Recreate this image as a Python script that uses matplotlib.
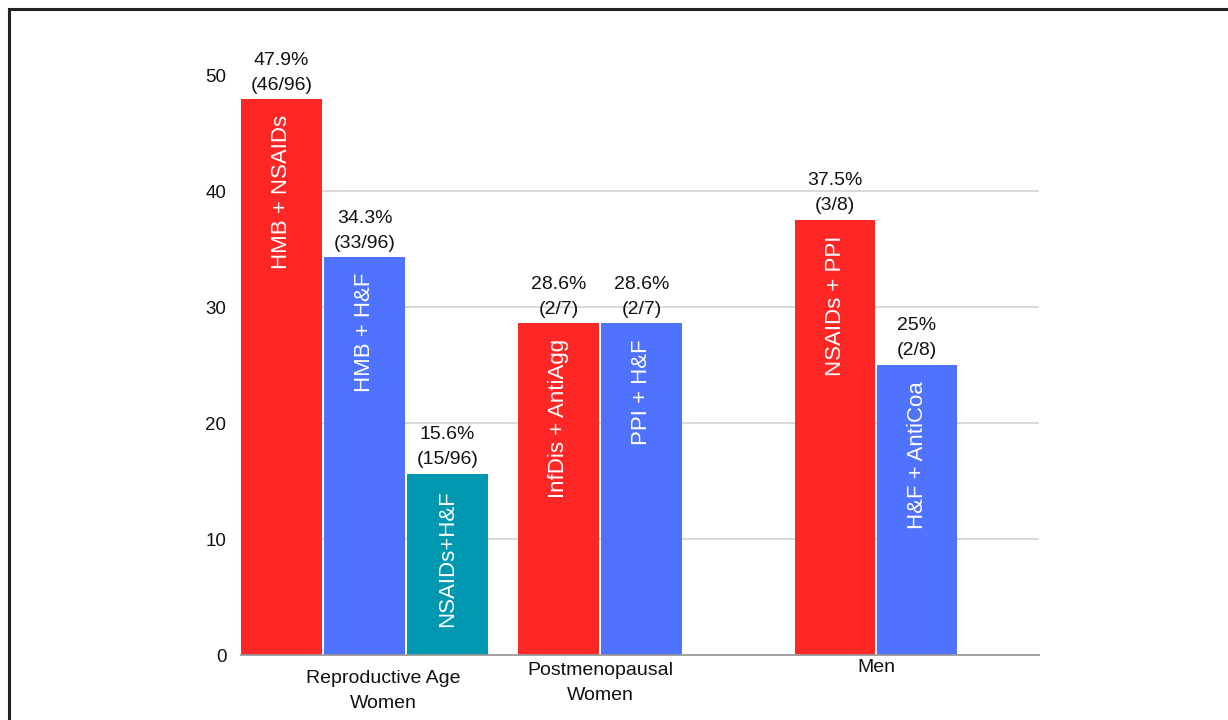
import matplotlib
matplotlib.use("Agg")
import matplotlib.pyplot as plt
from matplotlib.lines import Line2D

# ---- data ----
bar_labels = ["HMB + NSAIDs", "HMB + H&F", "NSAIDs+H&F",
              "InfDis + AntiAgg", "PPI + H&F",
              "NSAIDs + PPI", "H&F + AntiCoa"]
values = [47.9, 34.3, 15.6, 28.6, 28.6, 37.5, 25.0]
pct_text = ["47.9%", "34.3%", "15.6%", "28.6%", "28.6%", "37.5%", "25%"]
count_text = ["(46/96)", "(33/96)", "(15/96)", "(2/7)", "(2/7)", "(3/8)", "(2/8)"]
groups = ["Reproductive Age\nWomen", "Postmenopausal\nWomen", "Men"]
yticks = [0, 10, 20, 30, 40, 50]

# ---- layout / style ----
RED, BLUE, TEAL = "#FF2626", "#4F72FF", "#0098B0"
colors = [RED, BLUE, TEAL, RED, BLUE, RED, BLUE]
positions = [0.488, 1.488, 2.488, 3.827, 4.827, 7.157, 8.145]
bar_w = 0.975
group_pos = [1.71, 4.325, 7.66]
group_y = [-3.1, -2.45, -1.1]

plt.rcParams['font.family'] = ['Liberation Sans', 'DejaVu Sans']

fig = plt.figure(figsize=(12.28, 7.2), dpi=100)
ax = fig.add_axes([241/1228, (720-655)/720, (1039-241)/1228, (655-75)/720])
ax.set_xlim(0, 798/83)
ax.set_ylim(0, 50)

for yv in yticks[1:-1]:
    ax.axhline(yv, color="#D3D3D3", lw=1.2, zorder=0)

bars = ax.bar(positions, values, width=bar_w, color=colors, zorder=2)

for b, v, p, c, lab in zip(bars, values, pct_text, count_text, bar_labels):
    xc = b.get_x() + b.get_width() / 2
    ax.annotate(f"{p}\n{c}", (xc, v), xytext=(0, 4), textcoords="offset points",
                ha="center", va="bottom", fontsize=14, linespacing=1.62,
                color="#111111", clip_on=False, annotation_clip=False)
    ax.annotate(lab, (xc, v), xytext=(0, -11.5), textcoords="offset points",
                ha="center", va="top", rotation=90, fontsize=16,
                color="white", zorder=3)

for gx, gy, g in zip(group_pos, group_y, groups):
    ax.text(gx, gy, g, ha="center", va="center", fontsize=14,
            linespacing=1.62, color="#111111")

ax.set_yticks(yticks)
ax.set_yticklabels([str(t) for t in yticks], fontsize=13.5, color="#111111")
ax.tick_params(axis="y", length=0, pad=10.5)
ax.set_xticks([])
for s in ["top", "right", "left"]:
    ax.spines[s].set_visible(False)
ax.spines["bottom"].set_color("#999999")
ax.spines["bottom"].set_linewidth(1.3)

# outer frame (top and left edges visible)
fig.add_artist(Line2D([9/1228, 1.0], [1 - 9/720, 1 - 9/720], transform=fig.transFigure,
                      color="#222222", lw=2.2))
fig.add_artist(Line2D([9/1228, 9/1228], [0, 1 - 9/720], transform=fig.transFigure,
                      color="#222222", lw=2.2))

fig.savefig("out.png", dpi=100)
